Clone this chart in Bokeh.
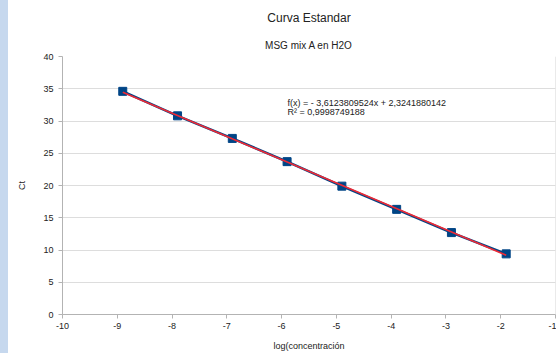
from bokeh.plotting import figure
from bokeh.models import Label, BoxAnnotation, FixedTicker, Range1d, Title, CustomJSTickFormatter, Div
from bokeh.layouts import row
from bokeh.embed import file_html
from bokeh.resources import INLINE

log_conc = [-8.9, -7.9, -6.9, -5.9, -4.9, -3.9, -2.9, -1.9]
ct = [34.6, 30.8, 27.3, 23.7, 19.9, 16.3, 12.7, 9.4]
slope = -3.6123809524
intercept = 2.3241880142
r2 = 0.9998749188
x_ticks = [-10, -9, -8, -7, -6, -5, -4, -3, -2, -1]
y_ticks = [0, 5, 10, 15, 20, 25, 30, 35, 40]

FONT = "Liberation Sans"

p = figure(width=548, height=353, output_backend="svg", toolbar_location=None,
           x_range=Range1d(-10, -1), y_range=Range1d(0, 40),
           min_border_left=54, min_border_right=1, min_border_top=56, min_border_bottom=35)
p.outline_line_color = None
p.background_fill_color = "white"
p.border_fill_color = "white"

p.title.text = "Curva Estandar"
p.title.text_font = FONT
p.title.text_font_size = "12px"
p.title.text_font_style = "normal"
p.title.text_color = "#222222"
p.title.align = "center"
p.title.offset = 13
p.title.standoff = 14
p.add_layout(Title(text="MSG mix A en H2O", text_font=FONT, text_font_size="10px",
                   text_font_style="normal", text_color="#222222", align="center",
                   offset=13, standoff=12), "above")

p.xaxis.ticker = FixedTicker(ticks=x_ticks)
p.yaxis.ticker = FixedTicker(ticks=y_ticks)
p.xaxis.formatter = CustomJSTickFormatter(code="return String(tick);")
p.yaxis.formatter = CustomJSTickFormatter(code="return String(tick);")
for ax in (p.xaxis[0], p.yaxis[0]):
    ax.axis_line_color = "#b3b3b3"
    ax.major_tick_line_color = "#b3b3b3"
    ax.major_tick_out = 4
    ax.major_tick_in = 0
    ax.minor_tick_line_color = None
    ax.major_label_text_font = FONT
    ax.major_label_text_font_size = "9px"
    ax.major_label_text_color = "#222222"
    ax.axis_label_text_font = FONT
    ax.axis_label_text_font_size = "9px"
    ax.axis_label_text_font_style = "normal"
    ax.axis_label_text_color = "#222222"
p.xaxis.axis_label = "log(concentración"
p.yaxis.axis_label = "Ct"
p.xaxis.major_label_standoff = 4
p.yaxis.major_label_standoff = 5
p.xaxis.axis_label_standoff = 9
p.yaxis.axis_label_standoff = 13
p.yaxis.major_label_orientation = "horizontal"

p.xgrid.grid_line_color = None
p.ygrid.grid_line_color = "#dddddd"
p.ygrid.grid_line_width = 1

# right border line of plot area
p.add_layout(BoxAnnotation(left=-1.0, right=-1.0, line_color="#b3b3b3", fill_alpha=0))

# data
p.line(log_conc, ct, line_color="#004586", line_width=2.5)
p.scatter(log_conc, ct, marker="square", size=8, fill_color="#004586", line_color="#004586")

# trend line
tx = [log_conc[0], log_conc[-1]]
ty = [slope * v + intercept for v in tx]
p.line(tx, ty, line_color="#ee2a35", line_width=1.6)

def fmt(v, n):
    return f"{v:.{n}f}".replace(".", ",")

eq = f"f(x) =  - {fmt(abs(slope), 10)}x + {fmt(intercept, 10)}"
r2t = f"R² = {fmt(r2, 10)}"

p.add_layout(Label(x=279, y=102, x_units="canvas", y_units="canvas", text=eq,
                   text_font=FONT, text_font_size="9px", text_align="left",
                   text_baseline="middle", text_color="#222222"))
p.add_layout(Label(x=279, y=111, x_units="canvas", y_units="canvas", text=r2t,
                   text_font=FONT, text_font_size="9px", text_align="left",
                   text_baseline="middle", text_color="#222222"))

strip = Div(text="", width=8, height=353, styles={"background-color": "#c6d8ee", "margin": "0"})
layout = row(strip, p, spacing=0)

open("out.html", "w").write(file_html(layout, INLINE))
